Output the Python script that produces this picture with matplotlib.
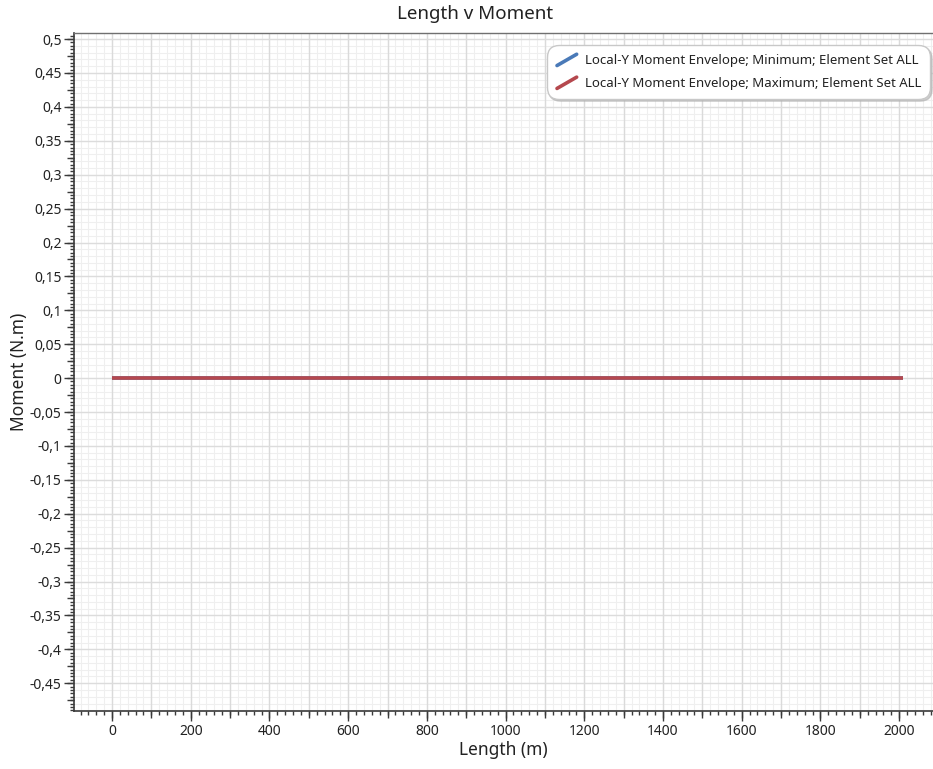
import numpy as np
import matplotlib
matplotlib.use("Agg")
import matplotlib.pyplot as plt
from matplotlib.ticker import MultipleLocator, FuncFormatter
from matplotlib.legend_handler import HandlerLine2D
from matplotlib.lines import Line2D

plt.rcParams['font.family'] = ['Noto Sans', 'DejaVu Sans']

# Envelope data along the member
length_m = [0, 2010]
moment_min = [0.0, 0.0]
moment_max = [0.0, 0.0]
series_labels = [
    "Local-Y Moment Envelope; Minimum; Element Set ALL",
    "Local-Y Moment Envelope; Maximum; Element Set ALL",
]
series_colors = ["#4a7ab8", "#b5484e"]

TICK_COLOR = "#3a3a3a"
TEXT_COLOR = "#222222"


def comma_fmt(v, pos=None):
    if abs(v) < 1e-12:
        return "0"
    s = f"{v:.4f}".rstrip("0").rstrip(".")
    return s.replace(".", ",")


class SlantedLineHandler(HandlerLine2D):
    def create_artists(self, legend, orig_handle, xdescent, ydescent,
                       width, height, fontsize, trans):
        line = Line2D([-xdescent + 1, -xdescent + width - 1],
                      [-ydescent - 1.0, -ydescent + height + 0.5])
        line.set_color(orig_handle.get_color())
        line.set_linewidth(orig_handle.get_linewidth())
        line.set_solid_capstyle("round")
        line.set_transform(trans)
        return [line]


fig = plt.figure(figsize=(9.33, 7.69), dpi=100)
ax = fig.add_axes([0.0793, 0.0754, 0.9207, 0.8817])

ax.set_xlim(-96.6, 2086)
ax.set_ylim(-0.491, 0.509)

# Light grid: fine lines, then heavier lines on coarser steps
for x in np.arange(-80, 2100, 20):
    ax.axvline(x, color="#efefef", lw=0.8, zorder=0)
for y in np.arange(-0.49, 0.51, 0.01):
    ax.axhline(y, color="#efefef", lw=0.8, zorder=0)
for x in np.arange(0, 2100, 100):
    ax.axvline(x, color="#dadada", lw=1.0, zorder=0.5)
for y in np.arange(-0.45, 0.51, 0.05):
    ax.axhline(y, color="#dcdcdc", lw=1.0, zorder=0.5)

l1, = ax.plot(length_m, moment_min, color=series_colors[0], lw=2.6,
              solid_capstyle="butt", label=series_labels[0], zorder=3)
l2, = ax.plot(length_m, moment_max, color=series_colors[1], lw=2.6,
              solid_capstyle="butt", label=series_labels[1], zorder=4)

# Ticks
ax.xaxis.set_major_locator(MultipleLocator(200))
ax.xaxis.set_minor_locator(MultipleLocator(20))
ax.yaxis.set_major_locator(MultipleLocator(0.05))
ax.yaxis.set_minor_locator(MultipleLocator(0.005))
ax.xaxis.set_major_formatter(FuncFormatter(comma_fmt))
ax.yaxis.set_major_formatter(FuncFormatter(comma_fmt))
ax.tick_params(which="major", direction="out", length=7, width=1.0,
               color=TICK_COLOR, labelsize=10, labelcolor=TEXT_COLOR, pad=2)
ax.tick_params(which="minor", direction="out", length=3, width=1.0,
               color=TICK_COLOR)

# Medium ticks at the half steps
secx = ax.secondary_xaxis("bottom")
secx.xaxis.set_major_locator(MultipleLocator(100))
secx.tick_params(direction="out", length=5, width=1.0, color=TICK_COLOR,
                 labelbottom=False)
secx.spines["bottom"].set_visible(False)
secy = ax.secondary_yaxis("left")
secy.yaxis.set_major_locator(MultipleLocator(0.025))
secy.tick_params(direction="out", length=5, width=1.0, color=TICK_COLOR,
                 labelleft=False)
secy.spines["left"].set_visible(False)

for side in ("left", "bottom"):
    ax.spines[side].set_color(TICK_COLOR)
    ax.spines[side].set_linewidth(1.2)
ax.spines["top"].set_color("#707070")
ax.spines["top"].set_linewidth(1.0)
ax.spines["right"].set_visible(False)

fig.text(475 / 933, 1 - 14 / 769, "Length v Moment", fontsize=13.5,
         color=TEXT_COLOR, ha="center", va="center")
ax.set_xlabel("Length (m)", fontsize=12.5, color=TEXT_COLOR, labelpad=2)
ax.set_ylabel("Moment (N.m)", fontsize=12.5, color=TEXT_COLOR, labelpad=1)

leg = ax.legend(handles=[l1, l2], loc="upper right",
                bbox_to_anchor=(0.9965, 0.982), fontsize=9.5,
                handler_map={Line2D: SlantedLineHandler()},
                handlelength=1.7, handletextpad=0.5, labelspacing=0.75,
                borderpad=0.68, borderaxespad=0, fancybox=True,
                shadow={"ox": 1.5, "oy": -1.5, "color": "#b0b0b0",
                        "alpha": 0.6},
                framealpha=1, edgecolor="#c8c8c8")
leg.get_frame().set_boxstyle("round,pad=0,rounding_size=0.9")
for t in leg.get_texts():
    t.set_color(TEXT_COLOR)

fig.savefig("out.png", dpi=100)
